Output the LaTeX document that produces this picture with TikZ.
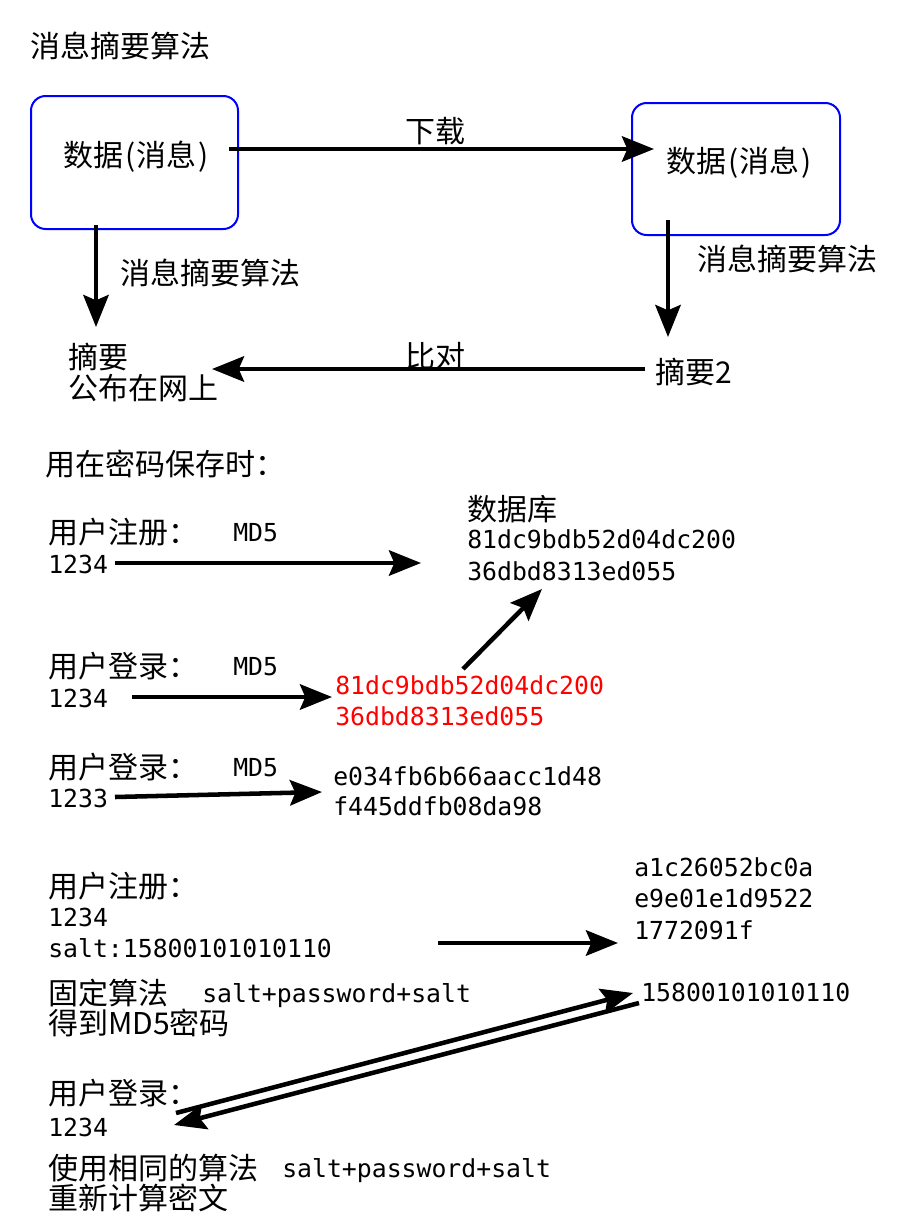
\documentclass[tikz,border=0pt]{standalone}
\usepackage{fontspec}
\setmainfont{DejaVu Sans Mono}
\newfontfamily\zh{Noto Sans CJK SC}
\usetikzlibrary{arrows.meta,calc}

\tikzset{
  arr/.style={line width=3.4pt,-{Stealth[length=24pt,width=19pt,inset=4pt]}},
  msgbox/.style={draw=blue,line width=1.5pt,rounded corners=11pt},
  zhtxt/.style={anchor=west,inner sep=0pt,text height=19.8pt,text depth=2.7pt,
    font=\zh\fontsize{22.5}{24}\selectfont},
  hex/.style={anchor=west,inner sep=0pt,text height=13.5pt,text depth=0pt,
    font=\fontsize{18.6}{24}\selectfont},
}

\begin{document}
\begin{tikzpicture}[x=0.75pt,y=-0.75pt]
\useasboundingbox (0,0) rectangle (906,1232);

% digest algorithm
\node[zhtxt] (title) at (30,46) {消息摘要算法};
\draw[msgbox] (31,96) rectangle (238,229);
\draw[msgbox] (632,103) rectangle (840,235);
\coordinate (boxA) at (31,229);
\coordinate (boxB) at (632,235);
\node[zhtxt] (msgA) at (63,155) {数据\hspace{2pt}(消息\hspace{2pt})};
\node[zhtxt] (msgB) at (666,161) {数据\hspace{2pt}(消息\hspace{2pt})};
\node[zhtxt] (dl) at (405,131) {下载};
\node[zhtxt] (algA) at (120,273) {消息摘要算法};
\node[zhtxt] (algB) at (697,259) {消息摘要算法};
\node[zhtxt] (digA) at (68,357) {摘要};
\node[zhtxt] (pub) at (68,388) {公布在网上};
\node[zhtxt] (digB) at (655,372) {摘要2};
\node[zhtxt] (cmp) at (405,356) {比对};

\draw[arr] ($(msgA.west)+(166,-6)$) -- ($(msgB.west)+(-12,-12)$);
\draw[arr] ($(boxA)+(65,-4)$) -- ($(boxA)+(65,98)$);
\draw[arr] ($(boxB)+(36,-15)$) -- ($(boxB)+(36,102)$);
\draw[arr] ($(digB.west)+(-10,-3)$) -- ($(pub.west)+(144,-19)$);

% passwords
\node[zhtxt] (usage) at (45,464) {用在密码保存时：};

\node[zhtxt] (reg) at (48,532) {用户注册：};
\node[hex] (mdA) at (233,532) {MD5};
\node[hex] (pwA) at (48,564) {1234};
\node[zhtxt] (db) at (467,509) {数据库};
\node[hex] (dbA) at (467,539) {81dc9bdb52d04dc200};
\node[hex] (dbB) at (467,571) {36dbd8313ed055};
\draw[arr] ($(pwA.west)+(67,-1)$) -- ($(dbB.west)+(-46,-8)$);

\node[zhtxt] (logA) at (48,666) {用户登录：};
\node[hex] (mdB) at (233,666) {MD5};
\node[hex] (pwB) at (48,698) {1234};
\node[hex,red] (okA) at (335,685) {81dc9bdb52d04dc200};
\node[hex,red] (okB) at (335,716) {36dbd8313ed055};
\draw[arr] ($(pwB.west)+(84,-1)$) -- ($(okA.west)+(-3,12)$);
\draw[arr] ($(okA.west)+(128,-16)$) -- ($(dbB.west)+(75,18)$);

\node[zhtxt] (logB) at (48,767) {用户登录：};
\node[hex] (mdC) at (233,767) {MD5};
\node[hex] (pwC) at (48,798) {1233};
\node[hex] (badA) at (333,776) {e034fb6b66aacc1d48};
\node[hex] (badB) at (333,806) {f445ddfb08da98};
\draw[arr] ($(pwC.west)+(67,-1)$) -- ($(badA.west)+(-11,16)$);

% salt
\node[zhtxt] (regS) at (48,886) {用户注册：};
\node[hex] (pwD) at (48,917) {1234};
\node[hex] (salt) at (48,948) {salt:15800101010110};
\node[hex] (sA) at (634,867) {a1c26052bc0a};
\node[hex] (sB) at (634,898) {e9e01e1d9522};
\node[hex] (sC) at (634,930) {1772091f};
\draw[arr] ($(salt.west)+(390,-5)$) -- ($(sC.west)+(-16,13)$);

\node[zhtxt] (fix) at (48,993) {固定算法};
\node[hex] (fixF) at (202,993) {salt+password+salt};
\node[zhtxt] (fixB) at (48,1023) {得到MD5密码};
\node[hex] (sv) at (641,992) {15800101010110};

\node[zhtxt] (logS) at (48,1093) {用户登录：};
\node[hex] (pwE) at (48,1127) {1234};
\node[zhtxt] (same) at (48,1168) {使用相同的算法};
\node[hex] (sameF) at (282,1168) {salt+password+salt};
\node[zhtxt] (redo) at (48,1198) {重新计算密文};

\draw[arr] ($(pwE.west)+(128,-14)$) -- ($(sv.west)+(-8,1)$);
\draw[arr] ($(sv.west)+(-2,11)$) -- ($(pwE.west)+(126,-2)$);
\end{tikzpicture}
\end{document}
